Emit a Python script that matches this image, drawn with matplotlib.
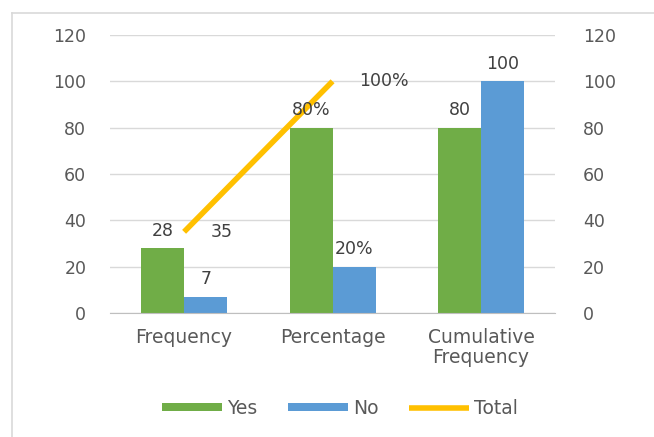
import numpy as np
import matplotlib.pyplot as plt
from matplotlib.lines import Line2D

# Chart data
categories = ['Frequency', 'Percentage', 'Cumulative\nFrequency']
yes_values = [28, 80, 80]
no_values = [7, 20, 100]
yes_labels = ['28', '80%', '80']
no_labels = ['7', '20%', '100']
total_values = [35, 100]
total_labels = ['35', '100%']
y_ticks = [0, 20, 40, 60, 80, 100, 120]

GREEN = '#70AD47'
BLUE = '#5B9BD5'
GOLD = '#FFC000'
TEXT = '#595959'
LABEL = '#404040'

fig = plt.figure(figsize=(6.54, 4.37), dpi=100)
ax = fig.add_axes([0.168, 0.284, 0.681, 0.636])

# thin gray frame along the left and top of the chart area
fig.add_artist(Line2D([12 / 654, 12 / 654], [0, 1 - 13 / 437], color='#d9d9d9', lw=1.2))
fig.add_artist(Line2D([12 / 654, 1], [1 - 13 / 437, 1 - 13 / 437], color='#d9d9d9', lw=1.2))

x = np.arange(len(categories))
width = 0.29

bars_yes = ax.bar(x - width / 2, yes_values, width, color=GREEN, label='Yes', zorder=2)
bars_no = ax.bar(x + width / 2, no_values, width, color=BLUE, label='No', zorder=2)
line_total, = ax.plot(x[:len(total_values)], total_values, color=GOLD, lw=4,
                      solid_capstyle='butt', label='Total', zorder=3)

for bars, labels in [(bars_yes, yes_labels), (bars_no, no_labels)]:
    for b, txt in zip(bars, labels):
        ax.annotate(txt, (b.get_x() + b.get_width() / 2, b.get_height()),
                    xytext=(0, 6), textcoords='offset points',
                    ha='center', va='bottom', fontsize=12.5, color=LABEL, zorder=4)

for xi, v, txt in zip(x, total_values, total_labels):
    ax.annotate(txt, (xi, v), xytext=(19, 0), textcoords='offset points',
                ha='left', va='center', fontsize=12.5, color=LABEL, zorder=4)

ax.set_xlim(-0.5, 2.5)
ax.set_ylim(0, 120)
ax.set_yticks(y_ticks)
ax.set_xticks(x)
ax.set_xticklabels(categories, linespacing=1.05)
ax.tick_params(axis='y', length=0, pad=17, labelsize=12.5, labelcolor=TEXT)
ax.tick_params(axis='x', length=0, pad=11, labelsize=13.5, labelcolor=TEXT)
ax.grid(axis='y', color='#d9d9d9', lw=1, zorder=0)
ax.set_axisbelow(True)
for s in ['top', 'left', 'right']:
    ax.spines[s].set_visible(False)
ax.spines['bottom'].set_color('#bfbfbf')

ax2 = ax.twinx()
ax2.set_ylim(0, 120)
ax2.set_yticks(y_ticks)
ax2.tick_params(axis='y', length=0, pad=20, labelsize=12.5, labelcolor=TEXT)
for s in ax2.spines.values():
    s.set_visible(False)

leg = fig.legend(handles=[bars_yes, bars_no, line_total], loc='center',
                 bbox_to_anchor=(0.52, 0.066), ncol=3, frameon=False,
                 fontsize=13.5, handlelength=3.2, handleheight=0.33,
                 columnspacing=1.6, handletextpad=0.3)
for t in leg.get_texts():
    t.set_color(TEXT)

fig.savefig('out.png', dpi=100)
